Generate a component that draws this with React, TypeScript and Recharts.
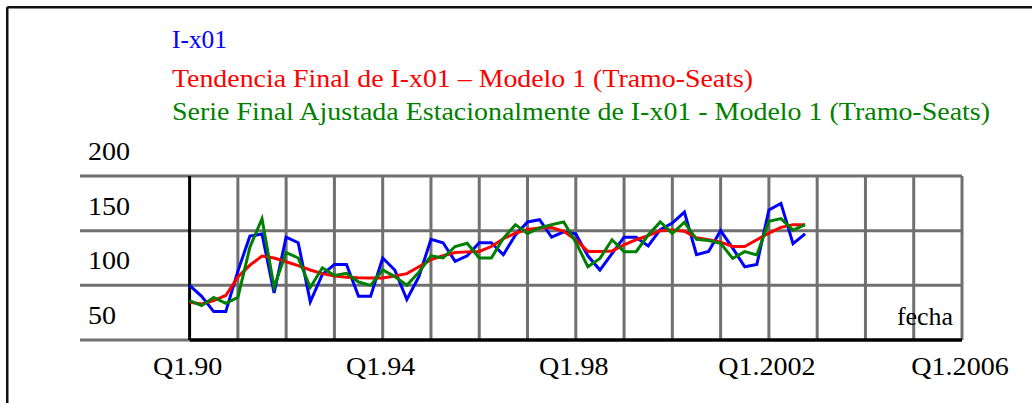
import React from 'react';
import { LineChart, Line, XAxis, YAxis, ReferenceLine } from 'recharts';

const START_YEAR = 1990;

// I-x01 (original series), quarterly 1990Q1 .. 2002Q4
const seriesIx01 = [
  100, 90, 76, 76, 113, 145, 147, 93, 144, 139, 85, 110,
  119, 119, 90, 90, 125, 114, 87, 108, 142, 139, 122, 127,
  139, 139, 128, 146, 158, 160, 144, 149, 147, 127, 114, 129,
  144, 144, 136, 151, 157, 167, 128, 131, 150, 134, 117, 119,
  169, 175, 138, 147,
];

// Tendencia Final (trend)
const seriesTrend = [
  84.5, 83, 86, 90.7, 107.7, 118.5, 126.8, 125, 121.6, 118, 114, 110.7,
  108.5, 107.5, 107, 106.8, 106.8, 108.5, 110.7, 117, 123.5, 127, 130, 130.6,
  131, 135.5, 142.6, 147.8, 151, 152.5, 153, 149.4, 141.7, 131, 131, 131.5,
  137, 141.7, 145.5, 150, 150.5, 149.5, 143.5, 141.7, 139.5, 135.5, 135.5, 141.7,
  147.8, 153, 155.5, 155.5,
];

// Serie Final Ajustada Estacionalmente (seasonally adjusted)
const seriesSA = [
  86, 81.5, 89, 83.6, 89, 135, 161, 98.5, 130, 125, 98, 116,
  109, 111, 103, 100, 114, 108, 100, 112, 127, 125, 135.5, 138.5,
  125, 125, 143, 155.5, 147.5, 152.5, 155.5, 158, 139.5, 117, 124.6, 141.7,
  130.8, 130.8, 146, 158, 147.5, 157.7, 142, 141, 138.5, 124.6, 130.8, 127.8,
  158.6, 161, 150.5, 155.5,
];

const quarters = seriesIx01.map(
  (_, i) => `${START_YEAR + Math.floor(i / 4)}Q${(i % 4) + 1}`
);

const xTicks = [1990, 1994, 1998, 2002, 2006];
const xTickLabels = ['Q1.90', 'Q1.94', 'Q1.98', 'Q1.2002', 'Q1.2006'];
const yTicks = [50, 100, 150, 200];
const yTickLabels = ['50', '100', '150', '200'];
const yGridValues = [100, 150, 200];
const yearGrid = [1991, 1992, 1993, 1994, 1995, 1996, 1997, 1998, 1999, 2000, 2001, 2002, 2003, 2004, 2005, 2006];

const legendLabels = [
  'I-x01',
  'Tendencia Final de I-x01 \u2013 Modelo 1 (Tramo-Seats)',
  'Serie Final Ajustada Estacionalmente de I-x01 - Modelo 1 (Tramo-Seats)',
];
const axisTitle = 'fecha';

const data = quarters.map((q, i) => ({
  q,
  t: START_YEAR + i / 4,
  ix01: seriesIx01[i],
  trend: seriesTrend[i],
  sa: seriesSA[i],
}));

const FONT = '"Liberation Serif", "Times New Roman", serif';
const GRID = '#707070';
const X_MIN = 1987.73;
const X_MAX = 2006;

const legendStyle = [
  { color: '#0000ff', y: 48, w: 55 },
  { color: '#ff0000', y: 87, w: 581 },
  { color: '#008000', y: 120, w: 818 },
];

const XTick = (props: any) => {
  const { x, payload } = props;
  const idx = xTicks.indexOf(payload.value);
  const label = idx >= 0 ? xTickLabels[idx] : String(payload.value);
  return (
    <g transform={`translate(${x - 2}, 375) scale(1.08, 1)`}>
      <text x={0} y={0} textAnchor="middle" fontFamily={FONT} fontSize={26} fill="#000">
        {label}
      </text>
    </g>
  );
};

const YTick = (props: any) => {
  const { y, payload } = props;
  const idx = yTicks.indexOf(payload.value);
  const label = idx >= 0 ? yTickLabels[idx] : String(payload.value);
  return (
    <g transform={`translate(88, ${y - 16}) scale(1.08, 1)`}>
      <text x={0} y={0} textAnchor="start" fontFamily={FONT} fontSize={26} fill="#000">
        {label}
      </text>
    </g>
  );
};

export default function App() {
  return (
    <div style={{ position: 'absolute', left: 0, top: 0, width: 1032, height: 403, background: '#fff' }}>
      <LineChart
        width={1032}
        height={403}
        data={data}
        margin={{ top: 176, right: 70, bottom: 0, left: 0 }}
      >
        <XAxis
          dataKey="t"
          type="number"
          domain={[X_MIN, X_MAX]}
          ticks={xTicks}
          allowDataOverflow
          axisLine={false}
          tickLine={false}
          height={63}
          tick={<XTick />}
          interval={0}
        />
        <YAxis
          type="number"
          domain={[50, 200]}
          ticks={yTicks}
          allowDataOverflow
          axisLine={false}
          tickLine={false}
          width={80}
          tick={<YTick />}
          interval={0}
        />
        {yGridValues.map((v) => (
          <ReferenceLine key={`h${v}`} y={v} stroke={GRID} strokeWidth={3} ifOverflow="visible" />
        ))}
        {yearGrid.map((yr) => (
          <ReferenceLine key={`v${yr}`} x={yr} stroke={GRID} strokeWidth={3} ifOverflow="visible" />
        ))}
        <ReferenceLine
          segment={[{ x: X_MIN, y: 50 }, { x: 1990, y: 50 }]}
          stroke={GRID}
          strokeWidth={3}
          ifOverflow="visible"
        />
        <ReferenceLine
          segment={[{ x: 1990, y: 50 }, { x: X_MAX, y: 50 }]}
          stroke="#000"
          strokeWidth={3.5}
          ifOverflow="visible"
        />
        <ReferenceLine x={1990} stroke="#000" strokeWidth={3} ifOverflow="visible" />
        <Line
          dataKey="ix01"
          stroke="#0000ff"
          strokeWidth={3}
          dot={false}
          activeDot={false}
          isAnimationActive={false}
          type="linear"
        />
        <Line
          dataKey="trend"
          stroke="#ff0000"
          strokeWidth={3}
          dot={false}
          activeDot={false}
          isAnimationActive={false}
          type="linear"
        />
        <Line
          dataKey="sa"
          stroke="#008000"
          strokeWidth={3}
          dot={false}
          activeDot={false}
          isAnimationActive={false}
          type="linear"
        />
      </LineChart>
      <svg
        width={1032}
        height={403}
        style={{ position: 'absolute', left: 0, top: 0, pointerEvents: 'none' }}
      >
        <line x1={7.25} y1={7.25} x2={1032} y2={7.25} stroke="#111" strokeWidth={2.5} />
        <line x1={7.25} y1={7.25} x2={7.25} y2={403} stroke="#111" strokeWidth={2.5} />
        {legendLabels.map((txt, i) => (
          <text
            key={txt}
            x={172}
            y={legendStyle[i].y}
            fill={legendStyle[i].color}
            fontFamily={FONT}
            fontSize={25}
            textLength={legendStyle[i].w}
            lengthAdjust="spacingAndGlyphs"
          >
            {txt}
          </text>
        ))}
        <text
          x={897}
          y={325}
          fill="#000"
          fontFamily={FONT}
          fontSize={26}
          textLength={56}
          lengthAdjust="spacingAndGlyphs"
        >
          {axisTitle}
        </text>
      </svg>
    </div>
  );
}
